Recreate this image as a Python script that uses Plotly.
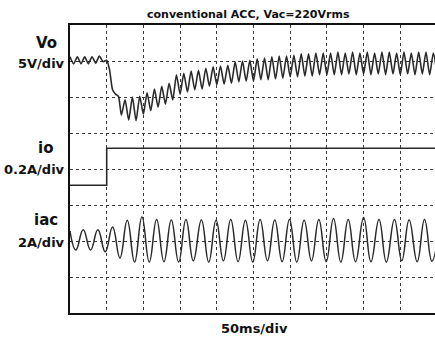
import plotly.graph_objects as go

# ---- data ----
# Vo: deviation from its reference trace line, volts (5 V/div)
vo_t = [0, 5, 10, 15, 20, 25, 30, 35, 40, 45, 50, 54, 58, 62, 66, 70, 75, 80, 85, 90,
        95, 100, 105, 110, 115, 120, 125, 130, 135, 140, 145, 150, 155, 160, 165, 170,
        175, 180, 185, 190, 195, 200, 205, 210, 215, 220, 225, 230, 235, 240, 245, 250,
        255, 260, 265, 270, 275, 280, 285, 290, 295, 300, 305, 310, 315, 320, 325, 330,
        335, 340, 345, 350, 355, 360, 365, 370, 375, 380, 385, 390, 395, 400, 405, 410,
        415, 420, 425, 430, 435, 440, 445, 450, 455, 460, 465, 470, 475, 480, 485, 490,
        495, 500]
vo_v = [0.6, -0.4, 0.6, -0.4, 0.6, -0.4, 0.6, -0.3, 0.7, -0.1, 0.1, -1.3, -4.0, -4.6, -4.9,
        -7.5, -5.4, -8.2, -5.0, -8.3, -4.9, -7.4, -4.4, -6.9, -3.9, -6.4, -3.5, -6.0, -3.1,
        -5.4, -1.9, -4.6, -1.7, -4.3, -1.4, -4.0, -1.3, -3.9, -1.0, -3.5, -0.8, -3.3, -0.7,
        -3.2, -0.6, -3.1, -0.1, -2.9, 0.0, -2.8, 0.1, -2.8, 0.3, -2.6, 0.4, -2.6, 0.6, -2.5,
        0.7, -2.4, 0.7, -2.2, 0.8, -2.2, 1.0, -2.1, 1.0, -2.1, 1.1, -1.9, 1.1, -1.9, 1.1,
        -1.9, 1.25, -1.9, 1.1, -1.8, 1.25, -1.9, 1.1, -1.8, 1.25, -1.9, 1.1, -1.8, 1.25,
        -1.9, 1.25, -1.8, 1.1, -1.9, 1.25, -1.8, 1.1, -1.9, 1.25, -1.8, 1.25, -1.9, 1.1, -1.8]

# io: output current, amps (0.2 A/div)
io_t = [0, 50, 50, 500]
io_a = [-0.09, -0.09, 0.115, 0.115]

# iac: input current extremes, amps (2 A/div)
iac_t = [0, 8, 18, 28, 38, 48, 58, 68, 78, 88, 98, 108, 118, 128, 138, 148, 158, 168, 179,
         189, 199, 209, 219, 229, 239, 249, 259, 269, 279, 289, 299, 309, 319, 329, 339,
         349, 359, 369, 379, 389, 400, 410, 421, 431, 442, 452, 462, 473, 483, 493, 504]
iac_a = [0.55, -0.5, 0.62, -0.5, 0.62, -0.6, 0.78, -0.94, 1.15, -1.17, 1.33, -1.17, 1.2,
         -1.15, 1.17, -1.17, 1.2, -1.1, 1.17, -1.17, 1.15, -1.1, 1.2, -1.15, 1.15, -1.17,
         1.2, -1.1, 1.17, -1.15, 1.2, -1.17, 1.15, -1.1, 1.2, -1.15, 1.25, -1.17, 1.2,
         -1.15, 1.3, -1.15, 1.2, -1.17, 1.2, -1.1, 1.17, -1.15, 1.2, -1.12, 1.15]

# channel settings: (reference division, units per division)
VO_REF, VO_SCALE = 7, 5.0
IO_REF, IO_SCALE = 4, 0.2
IAC_REF, IAC_SCALE = 2, 2.0

TIME_PER_DIV = 50  # ms

trace_color = "#2a2a2a"
fig = go.Figure()
fig.add_trace(go.Scatter(x=vo_t, y=[VO_REF + v / VO_SCALE for v in vo_v], mode="lines",
                         line=dict(color=trace_color, width=1.6, shape="spline", smoothing=0.6),
                         hoverinfo="skip"))
fig.add_trace(go.Scatter(x=io_t, y=[IO_REF + a / IO_SCALE for a in io_a], mode="lines",
                         line=dict(color=trace_color, width=1.6), hoverinfo="skip"))
fig.add_trace(go.Scatter(x=iac_t, y=[IAC_REF + a / IAC_SCALE for a in iac_a], mode="lines",
                         line=dict(color=trace_color, width=1.5, shape="spline", smoothing=1.3),
                         hoverinfo="skip"))

L, T, B, W, H = 70, 25, 24, 435, 337
plot_w = W - L
div_px = 36.7
x_max = plot_w / div_px * TIME_PER_DIV

fig.update_xaxes(range=[0, x_max], dtick=TIME_PER_DIV, tick0=0, showticklabels=False,
                 ticks="", showgrid=True, gridcolor="#3a3a3a", griddash="dot", gridwidth=1,
                 showline=True, mirror=True, linecolor="#111", linewidth=2, zeroline=False)
fig.update_yaxes(range=[0, 8], dtick=1, tick0=0, showticklabels=False, ticks="",
                 showgrid=True, gridcolor="#3a3a3a", griddash="dot", gridwidth=1,
                 showline=True, mirror=False, linecolor="#111", linewidth=2, zeroline=False)

plot_h = H - T - B


def px(x):
    return (x - L) / plot_w


def py(y):
    return (H - B - y) / plot_h


font = "DejaVu Sans"
labels = [
    ("conventional ACC, Vac=220Vrms", 248, 14.5, 11, "center"),
    ("Vo", 46, 43, 15, "center"),
    ("5V/div", 67, 64, 13, "right"),
    ("io", 45, 148, 15, "center"),
    ("0.2A/div", 67, 169, 13, "right"),
    ("iac", 46, 220, 15, "center"),
    ("2A/div", 67, 242, 13, "right"),
    ("50ms/div", 254, 328, 13, "center"),
]
for text, x, y, size, anchor in labels:
    fig.add_annotation(text=text, xref="paper", yref="paper", x=px(x), y=py(y),
                       xanchor=anchor, yanchor="middle", showarrow=False,
                       font=dict(family=font, size=size, color="#111", weight="bold"))

fig.update_layout(width=W, height=H, margin=dict(l=L, r=0, t=T, b=B, pad=0),
                  paper_bgcolor="white", plot_bgcolor="white", showlegend=False)

fig.write_html("out.html", config={"displayModeBar": False, "staticPlot": True},
               post_script="document.body.style.margin='0';document.body.style.overflow='hidden';")
